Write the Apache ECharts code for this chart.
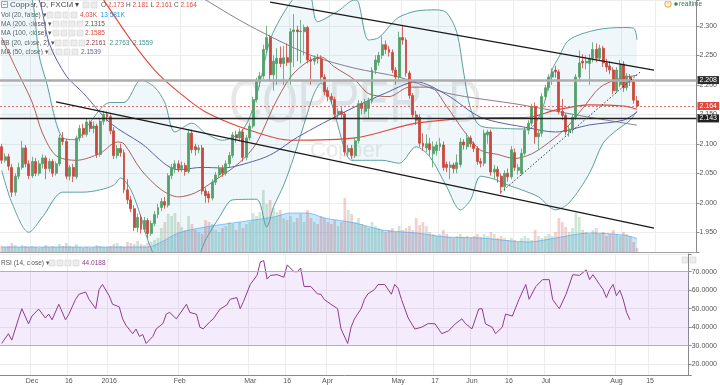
<!DOCTYPE html>
<html><head><meta charset="utf-8">
<script src="https://cdn.jsdelivr.net/npm/echarts@6/dist/echarts.min.js"></script>
<style>html,body{margin:0;padding:0;background:#fff}#c{width:720px;height:385px}</style>
</head><body><div id="c"></div>
<script>
// ---------------- DATA ----------------
const startDate = [2015, 10, 18];   // first trading day shown (UTC y, m0, d)
const nCategories = 205;            // weekdays on the axis (incl. empty right margin)
const tickLabels = [['2015-12-01','Dec'],['2015-12-16','16'],['2016-01-01','2016'],['2016-02-01','Feb'],
  ['2016-03-01','Mar'],['2016-03-16','16'],['2016-04-01','Apr'],['2016-05-02','May'],['2016-05-17','17'],
  ['2016-06-01','Jun'],['2016-06-16','16'],['2016-07-01','Jul'],['2016-08-01','Aug'],['2016-08-15','15']];

// [open, close, low, high]
const candles = [
[2.095,2.072,2.066,2.100],[2.072,2.078,2.068,2.084],[2.078,2.062,2.055,2.083],[2.060,2.018,2.010,2.066],
[2.018,2.045,2.012,2.050],[2.045,2.060,2.040,2.068],[2.060,2.093,2.056,2.105],[2.093,2.066,2.060,2.098],
[2.066,2.046,2.040,2.072],[2.046,2.070,2.042,2.078],[2.070,2.050,2.045,2.076],[2.050,2.066,2.046,2.072],
[2.066,2.076,2.058,2.082],[2.076,2.058,2.040,2.080],[2.058,2.070,2.052,2.075],[2.070,2.050,2.044,2.074],
[2.050,2.066,2.046,2.070],[2.066,2.110,2.062,2.116],[2.110,2.104,2.098,2.120],[2.104,2.045,2.040,2.108],
[2.045,2.060,2.038,2.064],[2.060,2.045,2.035,2.066],[2.044,2.110,2.040,2.114],[2.110,2.126,2.104,2.132],
[2.126,2.116,2.110,2.134],[2.116,2.137,2.112,2.142],[2.137,2.126,2.120,2.140],[2.126,2.130,2.118,2.138],
[2.130,2.082,2.076,2.134],[2.082,2.138,2.078,2.142],[2.138,2.150,2.132,2.156],[2.150,2.146,2.138,2.155],
[2.146,2.122,2.116,2.150],[2.122,2.080,2.074,2.128],[2.080,2.092,2.075,2.098],[2.092,2.085,2.078,2.100],
[2.085,2.022,2.016,2.090],[2.022,2.005,1.998,2.040],[2.005,1.990,1.984,2.012],[1.990,1.958,1.952,1.996],
[1.958,1.975,1.950,1.982],[1.975,1.955,1.948,1.980],[1.955,1.970,1.950,1.976],[1.970,1.948,1.940,1.974],
[1.948,1.965,1.944,1.970],[1.965,1.980,1.960,1.986],[1.980,1.992,1.974,1.998],[1.992,2.002,1.986,2.008],
[2.002,1.996,1.990,2.010],[1.996,2.046,1.992,2.050],[2.046,2.060,2.040,2.066],[2.058,2.066,2.050,2.072],
[2.066,2.058,2.052,2.072],[2.058,2.063,2.052,2.070],[2.063,2.053,2.046,2.068],[2.053,2.118,2.050,2.124],
[2.118,2.090,2.084,2.124],[2.095,2.090,2.080,2.100],[2.090,2.093,2.084,2.098],[2.093,2.020,2.014,2.098],
[2.020,2.012,2.000,2.026],[2.015,2.008,2.000,2.020],[2.008,2.035,2.004,2.040],[2.035,2.047,2.030,2.052],
[2.047,2.058,2.042,2.064],[2.058,2.050,2.044,2.064],[2.050,2.066,2.046,2.072],[2.066,2.080,2.060,2.086],
[2.080,2.115,2.076,2.120],[2.115,2.110,2.102,2.122],[2.110,2.120,2.104,2.126],[2.120,2.077,2.070,2.125],
[2.077,2.110,2.072,2.115],[2.110,2.130,2.105,2.136],[2.130,2.175,2.126,2.180],[2.175,2.205,2.170,2.212],
[2.205,2.215,2.196,2.222],[2.215,2.260,2.210,2.268],[2.260,2.280,2.254,2.300],[2.280,2.217,2.205,2.285],
[2.217,2.240,2.190,2.250],[2.236,2.245,2.200,2.262],[2.245,2.236,2.230,2.265],[2.236,2.246,2.200,2.266],
[2.246,2.238,2.232,2.270],[2.238,2.290,2.200,2.296],[2.290,2.293,2.230,2.320],[2.293,2.290,2.240,2.300],
[2.290,2.291,2.236,2.310],[2.290,2.297,2.250,2.302],[2.297,2.242,2.236,2.300],[2.242,2.240,2.200,2.248],
[2.240,2.245,2.234,2.250],[2.245,2.244,2.236,2.252],[2.244,2.213,2.205,2.250],[2.213,2.188,2.182,2.218],
[2.190,2.180,2.172,2.196],[2.180,2.175,2.168,2.186],[2.175,2.150,2.142,2.180],[2.150,2.155,2.144,2.160],
[2.155,2.150,2.144,2.162],[2.150,2.086,2.080,2.154],[2.086,2.092,2.078,2.098],[2.092,2.080,2.074,2.098],
[2.080,2.105,2.076,2.110],[2.105,2.168,2.100,2.174],[2.168,2.160,2.150,2.172],[2.155,2.170,2.150,2.176],
[2.160,2.172,2.142,2.178],[2.172,2.225,2.168,2.230],[2.225,2.242,2.218,2.250],[2.238,2.250,2.232,2.256],
[2.250,2.268,2.244,2.282],[2.268,2.260,2.252,2.275],[2.260,2.255,2.248,2.266],[2.255,2.225,2.220,2.260],
[2.225,2.213,2.200,2.230],[2.213,2.280,2.208,2.290],[2.280,2.276,2.268,2.300],[2.276,2.220,2.214,2.280],
[2.220,2.182,2.176,2.224],[2.182,2.149,2.142,2.186],[2.149,2.140,2.132,2.156],[2.145,2.101,2.095,2.150],
[2.101,2.096,2.088,2.118],[2.093,2.100,2.086,2.116],[2.100,2.090,2.080,2.110],[2.083,2.095,2.060,2.104],
[2.088,2.098,2.080,2.104],[2.095,2.100,2.088,2.110],[2.098,2.060,2.054,2.104],[2.065,2.060,2.052,2.070],
[2.060,2.064,2.040,2.070],[2.064,2.058,2.050,2.068],[2.058,2.068,2.050,2.082],[2.065,2.103,2.060,2.110],
[2.103,2.098,2.090,2.108],[2.095,2.110,2.090,2.118],[2.110,2.100,2.094,2.114],[2.100,2.092,2.086,2.104],
[2.092,2.070,2.064,2.096],[2.070,2.067,2.060,2.076],[2.067,2.118,2.062,2.124],[2.115,2.120,2.100,2.124],
[2.120,2.052,2.046,2.124],[2.052,2.057,2.040,2.064],[2.057,2.045,2.034,2.062],[2.045,2.027,2.015,2.050],
[2.027,2.050,2.020,2.055],[2.050,2.044,2.036,2.058],[2.044,2.090,2.040,2.096],[2.085,2.060,2.054,2.092],
[2.055,2.060,2.048,2.066],[2.050,2.084,2.046,2.092],[2.084,2.123,2.080,2.128],[2.123,2.135,2.116,2.140],
[2.135,2.163,2.130,2.168],[2.163,2.112,2.100,2.170],[2.112,2.118,2.090,2.124],[2.118,2.180,2.112,2.186],
[2.180,2.195,2.174,2.200],[2.195,2.213,2.190,2.218],[2.213,2.222,2.200,2.228],[2.225,2.222,2.212,2.232],
[2.222,2.155,2.150,2.226],[2.155,2.148,2.140,2.176],[2.148,2.120,2.114,2.152],[2.120,2.125,2.112,2.130],
[2.125,2.145,2.118,2.150],[2.145,2.213,2.140,2.218],[2.213,2.237,2.206,2.258],[2.240,2.237,2.228,2.252],
[2.237,2.240,2.226,2.250],[2.236,2.245,2.200,2.252],[2.245,2.260,2.238,2.272],[2.260,2.245,2.238,2.270],
[2.245,2.262,2.240,2.268],[2.262,2.237,2.230,2.266],[2.237,2.230,2.222,2.244],[2.232,2.225,2.218,2.240],
[2.225,2.190,2.184,2.230],[2.190,2.225,2.186,2.230],[2.200,2.235,2.196,2.242],[2.235,2.195,2.188,2.240],
[2.195,2.215,2.190,2.220],[2.213,2.205,2.198,2.218],[2.205,2.174,2.168,2.210],[2.173,2.164,2.161,2.181]
];

// volume (thousands)
const volume = [6,5,6,9,7,5,7,6,5,6,5,4,5,7,5,6,5,
 8,6,9,6,5,8,5,4,5,4,5,7,6,5,
 5,6,8,9,6,5,10,9,8,11,8,7,9,
 10,12,14,24,30,38,36,
 39,30,25,22,36,28,22,20,18,32,
 30,28,22,20,24,26,30,28,22,30,24,28,
 30,39,36,40,62,48,52,
 44,40,42,34,32,36,30,34,38,30,
 42,34,30,28,36,34,30,28,32,26,30,
 54,42,38,30,34,28,26,24,30,26,24,22,
 20,22,24,20,26,22,24,26,22,
 34,27,30,26,20,18,16,18,22,
 18,15,14,16,18,15,16,14,16,18,15,18,16,20,18,
 14,16,14,12,14,12,10,14,16,14,12,22,16,14,16,
 18,16,20,34,30,25,20,24,39,35,
 22,20,18,22,24,18,20,16,18,22,18,16,20,18,16,10,4.03];

// indicator lines: [barIndex, value]
const volMA = [[0,5],[43,5],[47,10],[52,19],[60,25],[70,30],[80,35],[85,39],[90,39],[95,34],[104,29],[112,22],[122,19],[131,15],[141,14],[155,10],[163,14],[173,19],[183,17],[187,13.58]];
const ma200 = [[56,2.36],[60,2.344],[73,2.30],[91,2.25],[104,2.228],[117,2.213],[131,2.186],[153,2.166],[170,2.148],[187,2.1315]];
const ma100 = [[26,2.38],[30,2.344],[38,2.276],[45,2.225],[52,2.188],[60,2.154],[73,2.123],[85,2.106],[104,2.11],[122,2.135],[141,2.144],[155,2.145],[163,2.157],[173,2.166],[183,2.164],[187,2.1585]];
const ma50 = [[8,2.36],[11,2.344],[14,2.27],[19,2.215],[24,2.186],[32,2.135],[41,2.101],[52,2.056],[59,2.06],[65,2.059],[75,2.072],[80,2.084],[87,2.111],[102,2.157],[113,2.186],[122,2.205],[131,2.183],[141,2.145],[155,2.127],[163,2.12],[173,2.132],[183,2.14],[187,2.1539]];
const bbBasis = [[0,2.28],[4,2.23],[9,2.17],[12,2.118],[16,2.08],[22,2.072],[29,2.084],[34,2.103],[36,2.1],[41,2.056],[47,2.022],[52,2.01],[57,2.017],[63,2.039],[70,2.068],[75,2.101],[80,2.163],[85,2.213],[90,2.239],[94,2.247],[98,2.23],[104,2.208],[108,2.185],[114,2.18],[120,2.196],[126,2.196],[131,2.163],[136,2.122],[141,2.089],[146,2.082],[151,2.075],[156,2.083],[161,2.102],[166,2.126],[171,2.16],[176,2.195],[181,2.209],[187,2.2161]];
const bbUpper = [[0,2.46],[5,2.41],[9,2.344],[11,2.25],[13,2.208],[18,2.11],[22,2.107],[25,2.129],[32,2.17],[36,2.17],[41,2.208],[45,2.196],[48,2.17],[51,2.12],[56,2.135],[60,2.118],[65,2.106],[70,2.118],[73,2.145],[76,2.203],[79,2.276],[83,2.322],[87,2.355],[89,2.37],[91,2.35],[93,2.307],[99,2.325],[104,2.344],[105,2.34],[108,2.276],[111,2.28],[115,2.305],[117,2.315],[122,2.325],[128,2.327],[131,2.322],[134,2.288],[136,2.22],[138,2.16],[141,2.13],[148,2.126],[155,2.125],[159,2.157],[162,2.225],[164,2.247],[167,2.276],[175,2.293],[183,2.297],[186,2.296],[187,2.2763]];
const bbLower = [[0,2.055],[3,2.0],[8,1.95],[12,1.976],[18,2.018],[24,2.018],[29,2.022],[33,2.03],[35,2.042],[38,2.022],[41,1.976],[43,1.937],[46,1.90],[50,1.885],[54,1.89],[58,1.911],[60,1.937],[64,1.975],[68,2.005],[75,2.006],[78,1.959],[80,1.993],[83,2.03],[86,2.078],[90,2.152],[92,2.186],[94,2.203],[97,2.17],[99,2.13],[101,2.09],[103,2.072],[112,2.072],[117,2.067],[122,2.095],[126,2.078],[131,2.027],[135,1.988],[138,2.005],[141,2.045],[145,2.04],[149,2.03],[153,2.022],[158,2.01],[163,1.988],[167,2.0],[173,2.05],[177,2.101],[181,2.123],[185,2.14],[187,2.1559]];
const rsi = [[0,31.2],[2,36.5],[3,33],[5,44.5],[6,50],[8,41.8],[9,46],[11,49.8],[13,45],[14,47.1],[15,44],[17,52.4],[19,44],[20,47],[22,55.1],[23,57.8],[25,59],[26,55.1],[28,50],[29,60.4],[30,63.1],[32,57],[33,52.4],[35,51],[36,44.5],[37,41],[39,36.5],[40,39],[41,35],[42,36],[43,31.2],[45,35],[46,39.1],[48,42],[49,47.1],[50,48],[52,44.5],[55,52.4],[56,48],[58,47],[59,40],[60,39.1],[62,43],[63,44.5],[65,49.8],[67,52],[68,55.1],[70,56],[71,50],[72,54],[74,63.1],[76,68],[77,75.3],[78,76],[79,66],[80,68],[82,68.4],[84,67],[85,73.7],[87,70],[88,70],[89,72],[90,62],[92,62],[94,58],[95,57.8],[96,55],[98,52.4],[100,50],[101,39.1],[103,31.2],[104,40],[105,44.5],[107,50],[108,55.1],[109,58],[111,60.4],[112,63],[114,63.1],[116,57.8],[117,63.1],[118,61],[119,55],[121,45],[123,39],[125,40],[127,42],[129,41.8],[131,36.5],[133,38],[135,41.8],[137,44.5],[138,42],[140,39.1],[142,49.8],[143,50],[144,41.8],[146,40],[147,36.5],[149,40],[150,47.1],[152,46],[154,55.1],[156,63.1],[157,55.1],[159,62],[161,65.7],[163,65.7],[164,55],[165,52.4],[166,50],[168,57.8],[170,68.4],[172,68],[174,71],[175,65.7],[176,68.4],[178,63],[179,60.4],[180,56],[181,60.4],[182,63.1],[183,57],[184,60],[185,55.1],[186,48],[187,44.02]];

// drawn levels and trend lines (data coordinates)
const levelGray = 2.208, levelLast = 2.164, levelBlack = 2.143;
const channelUpper = [[79,2.340],[192,2.225]];
const channelLower = [[16,2.171],[192,1.957]];
const supportDotted = [[147,2.018],[188,2.222]];

// ---------------- BUILD ----------------
const dates = [];
{ const d = new Date(Date.UTC(startDate[0], startDate[1], startDate[2]));
  while (dates.length < nCategories) { const wd = d.getUTCDay(); if (wd !== 0 && wd !== 6) dates.push(d.toISOString().slice(0,10)); d.setUTCDate(d.getUTCDate()+1); } }
const labelMap = Object.fromEntries(tickLabels);
const labelIdx = new Set(dates.map((d,i)=>labelMap[d]?i:-1).filter(i=>i>=0));

const UP = '#53a06a', DOWN = '#c9483c';
const FONT = 'Liberation Sans, Arial, sans-serif';
const PMIN = 1.9166, PMAX = 2.3437;

const volData = volume.map((v,i)=>({value:v, itemStyle:{color: candles[i][1] >= candles[i][0] ? 'rgba(83,160,106,0.28)' : 'rgba(201,72,60,0.26)'}}));

const lineS = (name, data, color, width, extra) => Object.assign({
  name, type:'line', xAxisIndex:0, yAxisIndex:0, data, showSymbol:false, smooth:0.3,
  lineStyle:{color, width}, silent:true, z:3}, extra||{});

function mlSeg(pts, style){ return [{coord:pts[0], lineStyle:style}, {coord:pts[1]}]; }

const option = {
  animation:false,
  textStyle:{fontFamily:FONT},
  grid:[{left:0,right:21,top:0,height:252},{left:0,right:21,top:254,height:123}],
  xAxis:[
    {type:'category', gridIndex:0, data:dates, boundaryGap:true,
     axisLine:{show:true, lineStyle:{color:'#a0a0a0'}}, axisTick:{show:false}, axisLabel:{show:false},
     splitLine:{show:true, interval:(i)=>labelIdx.has(i), lineStyle:{color:'#ededed'}}},
    {type:'category', gridIndex:1, data:dates, boundaryGap:true,
     axisLine:{show:true, lineStyle:{color:'#8a8a8a'}}, axisTick:{show:false},
     axisLabel:{show:true, interval:(i)=>labelIdx.has(i), formatter:(v)=>labelMap[v]||'', fontSize:7, color:'#555', margin:3},
     splitLine:{show:true, interval:(i)=>labelIdx.has(i), lineStyle:{color:'#ededed'}}}
  ],
  yAxis:[
    {type:'value', gridIndex:0, position:'right', min:PMIN, max:PMAX, splitNumber:8, scale:true,
     axisLine:{show:true, lineStyle:{color:'#8a8a8a'}}, axisTick:{show:true, length:3, lineStyle:{color:'#8a8a8a'}},
     axisLabel:{fontSize:7, color:'#555', margin:3, formatter:(v)=>{const k=v/0.05; return Math.abs(k-Math.round(k))<1e-6 ? v.toFixed(3) : '';}},
     splitLine:{show:true, lineStyle:{color:'#ededed'}}},
    {type:'value', gridIndex:0, min:0, max:252, show:false},
    {type:'value', gridIndex:1, position:'right', min:14.15, max:79.57, splitNumber:6,
     axisLine:{show:true, lineStyle:{color:'#8a8a8a'}}, axisTick:{show:true, length:3, lineStyle:{color:'#8a8a8a'}},
     axisLabel:{fontSize:7, color:'#555', margin:3, formatter:(v)=>{const k=v/10; return (Math.abs(k-Math.round(k))<1e-6 && v>=20 && v<=70) ? v.toFixed(4) : '';}},
     splitLine:{show:true, lineStyle:{color:'#ececec'}}}
  ],
  graphic:[
    // watermark
    {type:'text', x:229, y:105, scaleX:0.74, z:-1, silent:true, style:{text:'COPPER, D', font:'62px '+FONT, fill:'#e6e6e6', textVerticalAlign:'middle'}},
    {type:'text', x:310, y:151, z:-1, silent:true, style:{text:'Copper', font:'22px '+FONT, fill:'#e9e9e9', textVerticalAlign:'middle'}},
    // header legend
    {type:'rect', shape:{x:1.5,y:1.5,width:6,height:6}, style:{fill:'#fff', stroke:'#888', lineWidth:0.8}},
    {type:'rect', shape:{x:3,y:4.2,width:3,height:0.6}, style:{fill:'#666'}},
    {type:'text', x:10, y:5, style:{text:'Copper, D, FXCM ▾', font:'8px '+FONT, fill:'#444', textVerticalAlign:'middle'}},
    {type:'text', x:101, y:5, style:{text:'{k|O} {v|2.173} {k|H} {v|2.181} {k|L} {v|2.161} {k|C} {v|2.164}', font:'6.5px '+FONT, textVerticalAlign:'middle',
      rich:{k:{fill:'#555', font:'6.5px '+FONT}, v:{fill:'#e0483e', font:'6.5px '+FONT}}}},
    {type:'text', x:1, y:15, style:{text:'Vol (20, false) ▾', font:'6.5px '+FONT, fill:'#555', textVerticalAlign:'middle'}},
    {type:'text', x:80, y:15, style:{text:'{r|4.03K}  {b|13.581K}', font:'6.5px '+FONT, textVerticalAlign:'middle', rich:{r:{fill:'#e0483e',font:'6.5px '+FONT}, b:{fill:'#2196f3',font:'6.5px '+FONT}}}},
    {type:'text', x:1, y:24, style:{text:'MA (200, close) ▾', font:'6.5px '+FONT, fill:'#555', textVerticalAlign:'middle'}},
    {type:'text', x:85, y:24, style:{text:'2.1315', font:'6.5px '+FONT, fill:'#555', textVerticalAlign:'middle'}},
    {type:'text', x:1, y:33, style:{text:'MA (100, close) ▾', font:'6.5px '+FONT, fill:'#555', textVerticalAlign:'middle'}},
    {type:'text', x:85, y:33, style:{text:'2.1585', font:'6.5px '+FONT, fill:'#e0483e', textVerticalAlign:'middle'}},
    {type:'text', x:1, y:43, style:{text:'BB (20, close, 2) ▾', font:'6.5px '+FONT, fill:'#555', textVerticalAlign:'middle'}},
    {type:'text', x:86, y:43, style:{text:'{a|2.2161}  {b|2.2763}  {b|2.1559}', font:'6.5px '+FONT, textVerticalAlign:'middle', rich:{a:{fill:'#8d3c3c',font:'6.5px '+FONT}, b:{fill:'#3f8f8c',font:'6.5px '+FONT}}}},
    {type:'text', x:1, y:52, style:{text:'MA (50, close) ▾', font:'6.5px '+FONT, fill:'#555', textVerticalAlign:'middle'}},
    {type:'text', x:81, y:52, style:{text:'2.1539', font:'6.5px '+FONT, fill:'#5b5ea6', textVerticalAlign:'middle'}},
    {type:'text', x:1, y:263, style:{text:'RSI (14, close) ▾', font:'6.5px '+FONT, fill:'#555', textVerticalAlign:'middle'}},
    {type:'text', x:82, y:263, style:{text:'44.0188', font:'6.5px '+FONT, fill:'#8e3b8e', textVerticalAlign:'middle'}},
    // little button boxes
    ...[[83,2],[91,2]].map(p=>({type:'rect', shape:{x:p[0],y:p[1],width:6,height:6}, style:{fill:'#ececec', stroke:'#d4d4d4', lineWidth:0.6}})),
    ...[[47,12],[55,12],[63,12],[71,12],[53,21],[61,21],[69,21],[77,21],[53,30],[61,30],[69,30],[77,30],[55,40],[63,40],[71,40],[79,40],[48,49],[56,49],[64,49],[72,49],[49,260],[57,260],[65,260],[73,260],[682,257],[690,257]]
      .map(p=>({type:'rect', shape:{x:p[0],y:p[1],width:6,height:6}, style:{fill:'#ececec', stroke:'#d4d4d4', lineWidth:0.6}})),
    // realtime indicator
    {type:'circle', shape:{cx:668,cy:4,r:3.2}, style:{fill:'#fff', stroke:'#f39c12', lineWidth:1}},
    {type:'rect', shape:{x:667.6,y:2,width:0.8,height:2.6}, style:{fill:'#f39c12'}},
    {type:'circle', shape:{cx:676,cy:4,r:1.8}, style:{fill:'#2e8b57'}},
    {type:'text', x:679, y:4, style:{text:'realtime', font:'6.5px '+FONT, fill:'#2e7d5b', textVerticalAlign:'middle'}}
  ],
  series:[
    // Bollinger band fill
    {type:'custom', xAxisIndex:0, yAxisIndex:0, data:[[0,2]], silent:true, z:1,
     renderItem:(params, api)=>{
       const cs = params.coordSys;
       const cl = (c)=>[c[0], Math.max(cs.y, Math.min(cs.y+cs.height, c[1]))];
       const up = bbUpper.map(p=>cl(api.coord(p)));
       const lo = bbLower.map(p=>cl(api.coord(p))).reverse();
       return {type:'polygon', shape:{points:up.concat(lo)}, style:{fill:'rgba(120,190,210,0.12)'}};
     }},
    // volume
    {name:'Vol', type:'bar', xAxisIndex:0, yAxisIndex:1, data:volData, barWidth:'80%', silent:true, z:1},
    {name:'VolMA', type:'line', xAxisIndex:0, yAxisIndex:1, data:volMA, showSymbol:false, smooth:0.3, silent:true, z:1,
     lineStyle:{width:0.8, color:'rgba(66,165,245,0.75)'}, areaStyle:{color:'rgba(66,165,245,0.42)'}},
    lineS('BB upper', bbUpper, '#5a9f9c', 1),
    lineS('BB lower', bbLower, '#5a9f9c', 1),
    lineS('BB basis', bbBasis, '#a0524c', 0.9),
    lineS('MA200', ma200, '#7a7185', 0.9),
    lineS('MA100', ma100, '#e0483e', 1.1),
    lineS('MA50', ma50, '#5b5ea6', 1),
    // candles
    {name:'Copper', type:'candlestick', xAxisIndex:0, yAxisIndex:0, data:candles, barWidth:'72%', z:4,
     itemStyle:{color:UP, color0:DOWN, borderColor:UP, borderColor0:DOWN, borderWidth:0.8},
     markLine:{symbol:['none','none'], silent:true, z:5, precision:3,
       label:{show:false},
       data:[
         {yAxis:levelGray, lineStyle:{color:'#acacac', width:2.5, type:'solid'},
          label:{show:true, position:'end', distance:1, formatter:'2.208', color:'#fff', backgroundColor:'#2e2e2e', padding:[1,2,0,2], fontSize:7}},
         {yAxis:levelBlack, lineStyle:{color:'#222', width:1.3, type:'solid'},
          label:{show:true, position:'end', distance:1, formatter:'2.143', color:'#fff', backgroundColor:'#222', padding:[1,2,0,2], fontSize:7}},
         {yAxis:levelLast, lineStyle:{color:'#d9534f', width:0.8, type:[2,2]},
          label:{show:true, position:'end', distance:1, formatter:'2.164', color:'#fff', backgroundColor:'#e0483e', padding:[1,2,0,2], fontSize:7}},
         mlSeg(channelUpper, {color:'#1a1a1a', width:1.3, type:'solid'}),
         mlSeg(channelLower, {color:'#1a1a1a', width:1.3, type:'solid'}),
         mlSeg(supportDotted, {color:'#333', width:1, type:[1.5,2]})
       ]}},
    // RSI
    {name:'RSI', type:'line', xAxisIndex:1, yAxisIndex:2, data:rsi, showSymbol:false, silent:true,
     lineStyle:{color:'#8e3b8e', width:1},
     markArea:{silent:true, itemStyle:{color:'rgba(170,110,240,0.13)'}, data:[[{yAxis:30},{yAxis:70}]]},
     markLine:{symbol:['none','none'], silent:true, label:{show:false}, lineStyle:{color:'#b9aac6', width:1, type:'solid'}, data:[{yAxis:30},{yAxis:70}]}}
  ]
};
const chart = echarts.init(document.getElementById('c'), null, {renderer:'canvas', width:720, height:385});
chart.setOption(option);
</script></body></html>
